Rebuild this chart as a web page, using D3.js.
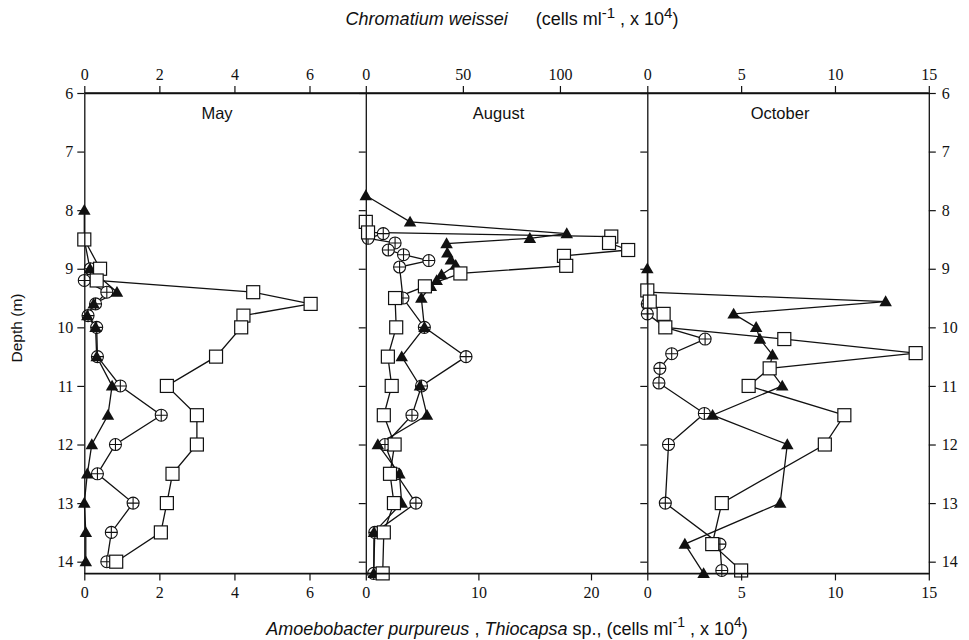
<!DOCTYPE html>
<html>
<head>
<meta charset="utf-8">
<script src="https://cdn.jsdelivr.net/npm/d3@7"></script>
<style>
  body { margin: 0; background: #fff; }
  text { fill: #111; }
</style>
</head>
<body>
<svg id="chart" width="969" height="640"></svg>
<script>
// values: depth (m), counts (cells ml-1, x 10^4)
let months = ["May", "August", "October"];
let topTicks = [[0, 2, 4, 6], [0, 50, 100], [0, 5, 10, 15]];
let bottomTicks = [[0, 2, 4, 6], [0, 10, 20], [0, 5, 10, 15]];
let topMax = [7.5, 145, 15];
let bottomMax = [7.5, 25, 15];
let depthTicks = [6, 7, 8, 9, 10, 11, 12, 13, 14];

// Chromatium weissei (filled triangles, top scale)
let mayTriDepth = [8.0, 8.5, 9.0, 9.4, 9.6, 9.8, 10.0, 10.5, 11.0, 11.5, 12.0, 12.5, 13.0, 13.5, 14.0];
let mayTri = [0, 0, 0.15, 0.87, 0.25, 0.08, 0.3, 0.33, 0.74, 0.63, 0.2, 0.08, 0, 0.04, 0.04];
let augTriDepth = [7.75, 8.2, 8.4, 8.48, 8.57, 8.73, 8.85, 8.94, 9.1, 9.2, 9.3, 9.5, 10.0, 10.5, 11.0, 11.5, 12.0, 12.5, 13.0, 13.5, 14.2];
let augTri = [0, 22.8, 103.5, 84.5, 41.6, 42, 43.8, 46.3, 39, 36.5, 33.5, 28.6, 30.2, 18.5, 27.9, 31.5, 6.2, 17.3, 18.5, 4.2, 4.1];
let octTriDepth = [9.0, 9.4, 9.56, 9.77, 10.0, 10.2, 10.47, 10.7, 11.0, 11.5, 12.0, 13.0, 13.7, 14.2];
let octTri = [0, 0, 12.7, 4.6, 5.8, 6.0, 6.67, 6.5, 7.19, 3.48, 7.46, 7.08, 2.0, 3.0];

// Amoebobacter purpureus (open squares, bottom scale)
let maySqDepth = [8.5, 9.0, 9.2, 9.4, 9.6, 9.8, 10.0, 10.5, 11.0, 11.5, 12.0, 12.5, 13.0, 13.5, 14.0];
let maySq = [0, 0.42, 0.33, 4.5, 6.03, 4.24, 4.18, 3.51, 2.2, 3.0, 3.0, 2.35, 2.2, 2.04, 0.85];
let augSqDepth = [8.2, 8.38, 8.45, 8.56, 8.68, 8.78, 8.95, 9.08, 9.3, 9.5, 10.0, 10.5, 11.0, 11.5, 12.0, 12.5, 13.0, 13.5, 14.2];
let augSq = [0, 0.2, 21.8, 21.6, 23.3, 17.6, 17.8, 8.4, 5.25, 2.6, 2.7, 1.96, 2.3, 1.6, 2.56, 2.15, 2.5, 1.6, 1.5];
let octSqDepth = [9.37, 9.56, 9.77, 10.0, 10.2, 10.44, 10.7, 11.0, 11.5, 12.0, 13.0, 13.7, 14.15];
let octSq = [0, 0.13, 0.87, 0.96, 7.3, 14.3, 6.52, 5.4, 10.5, 9.46, 3.97, 3.46, 5.0];

// Thiocapsa sp. (crossed circles, bottom scale)
let mayCirDepth = [9.0, 9.2, 9.4, 9.6, 9.8, 10.0, 10.5, 11.0, 11.5, 12.0, 12.5, 13.0, 13.5, 14.0];
let mayCir = [0.16, 0, 0.6, 0.3, 0.1, 0.33, 0.35, 0.96, 2.05, 0.83, 0.35, 1.3, 0.72, 0.6];
let augCirDepth = [8.4, 8.48, 8.56, 8.68, 8.76, 8.86, 8.97, 9.5, 10.0, 10.5, 11.0, 11.5, 12.0, 12.5, 13.0, 13.5, 14.2];
let augCir = [1.55, 0.2, 2.6, 2.0, 3.35, 5.6, 3.0, 3.3, 5.2, 8.9, 4.95, 4.1, 1.7, 2.7, 4.45, 0.8, 0.7];
let octCirDepth = [9.6, 9.77, 10.0, 10.2, 10.45, 10.7, 10.95, 11.47, 12.0, 13.0, 13.7, 14.15];
let octCir = [0, 0, 0.96, 3.08, 1.3, 0.67, 0.62, 3.04, 1.13, 0.96, 3.87, 3.97];

let triDepth = [mayTriDepth, augTriDepth, octTriDepth], triVal = [mayTri, augTri, octTri];
let sqDepth = [maySqDepth, augSqDepth, octSqDepth], sqVal = [maySq, augSq, octSq];
let cirDepth = [mayCirDepth, augCirDepth, octCirDepth], cirVal = [mayCir, augCir, octCir];

let svg = d3.select("#chart"),
    pLeft = 84.3,
    panelW = 281.5,
    pTop = 93,
    pBottom = 573.4;

let y = d3.scaleLinear().domain([6, 14.2]).range([pTop, pBottom]);

let serif = "'Liberation Serif', 'Times New Roman', serif",
    sans = "'Liberation Sans', Arial, sans-serif";

let zip = function(ds, vs) { return ds.map(function(d, i) { return {depth: d, v: vs[i]}; }); };

let lineLayer = svg.append("g"),
    markLayer = svg.append("g");

months.forEach(function(m, i) {
    let x0 = pLeft + i * panelW;
    let xTop = d3.scaleLinear().domain([0, topMax[i]]).range([x0, x0 + panelW]);
    let xBot = d3.scaleLinear().domain([0, bottomMax[i]]).range([x0, x0 + panelW]);

    // top axis
    let gt = svg.append("g")
        .attr("transform", "translate(0," + pTop + ")")
        .call(d3.axisTop(xTop).tickValues(topTicks[i]).tickSize(7).tickSizeOuter(0).tickPadding(6));
    // bottom axis
    let gb = svg.append("g")
        .attr("transform", "translate(0," + pBottom + ")")
        .call(d3.axisBottom(xBot).tickValues(bottomTicks[i]).tickSize(7).tickSizeOuter(0).tickPadding(6));
    // left side of each panel
    let gl = svg.append("g")
        .attr("transform", "translate(" + x0 + ",0)")
        .call(d3.axisLeft(y).tickValues(depthTicks).tickSize(7).tickSizeOuter(0).tickPadding(4)
            .tickFormat(i == 0 ? d3.format("d") : ""));

    [gt, gb, gl].forEach(function(g) {
        g.selectAll("path").attr("stroke", "#111").attr("stroke-width", 1.3);
        g.selectAll("line").attr("stroke", "#111").attr("stroke-width", 1.2);
        g.selectAll("text").attr("font-family", serif).attr("font-size", "16px").attr("fill", "#111");
    });

    // month label
    svg.append("text")
        .attr("x", x0 + panelW / 2 - 8)
        .attr("y", 119)
        .attr("text-anchor", "middle")
        .attr("font-family", sans)
        .attr("font-size", "16.5px")
        .text(m);

    let line = function(sc) {
        return d3.line().x(function(d) { return sc(d.v); }).y(function(d) { return y(d.depth); });
    };

    let tri = zip(triDepth[i], triVal[i]),
        sq = zip(sqDepth[i], sqVal[i]),
        cir = zip(cirDepth[i], cirVal[i]);

    [[cir, xBot], [tri, xTop], [sq, xBot]].forEach(function(s) {
        lineLayer.append("path")
            .datum(s[0])
            .attr("d", line(s[1]))
            .attr("fill", "none")
            .attr("stroke", "#111")
            .attr("stroke-width", 1.3);
    });

    // crossed circles
    let gc = markLayer.selectAll(".cir" + i)
        .data(cir)
        .enter().append("g")
        .attr("transform", function(d) { return "translate(" + xBot(d.v) + "," + y(d.depth) + ")"; });
    gc.append("circle").attr("r", 6).attr("fill", "#fff").attr("stroke", "#111").attr("stroke-width", 1.1);
    gc.append("path").attr("d", "M-6,0H6M0,-6V6").attr("stroke", "#111").attr("stroke-width", 1.1);

    // filled triangles
    markLayer.selectAll(".tri" + i)
        .data(tri)
        .enter().append("path")
        .attr("d", d3.symbol().type(d3.symbolTriangle).size(68))
        .attr("transform", function(d) { return "translate(" + xTop(d.v) + "," + (y(d.depth) + 1) + ")"; })
        .attr("fill", "#111");

    // open squares
    markLayer.selectAll(".sq" + i)
        .data(sq)
        .enter().append("rect")
        .attr("x", function(d) { return xBot(d.v) - 6.5; })
        .attr("y", function(d) { return y(d.depth) - 6.5; })
        .attr("width", 13)
        .attr("height", 13)
        .attr("fill", "#fff")
        .attr("stroke", "#111")
        .attr("stroke-width", 1.2);
});

// right depth axis
let gr = svg.append("g")
    .attr("transform", "translate(" + (pLeft + 3 * panelW) + ",0)")
    .call(d3.axisRight(y).tickValues(depthTicks).tickSize(7).tickSizeOuter(0).tickPadding(6));
gr.selectAll("path").attr("stroke", "#111").attr("stroke-width", 1.3);
gr.selectAll("line").attr("stroke", "#111").attr("stroke-width", 1.2);
gr.selectAll("text").attr("font-family", serif).attr("font-size", "16px").attr("fill", "#111");

// frame top and bottom lines across all panels
svg.append("line").attr("x1", pLeft).attr("x2", pLeft + 3 * panelW).attr("y1", pTop).attr("y2", pTop)
    .attr("stroke", "#111").attr("stroke-width", 1.3);
svg.append("line").attr("x1", pLeft).attr("x2", pLeft + 3 * panelW).attr("y1", pBottom).attr("y2", pBottom)
    .attr("stroke", "#111").attr("stroke-width", 1.3);

// axis titles
let t1 = svg.append("text")
    .attr("x", 512).attr("y", 25)
    .attr("text-anchor", "middle")
    .attr("font-family", sans).attr("font-size", "18px");
t1.append("tspan").attr("font-style", "italic").text("Chromatium weissei");
t1.append("tspan").attr("dx", 28).text("(cells  ml");
t1.append("tspan").attr("dy", -7).attr("font-size", "15px").text("-1");
t1.append("tspan").attr("dy", 7).text(" , x 10");
t1.append("tspan").attr("dy", -7).attr("font-size", "15px").text("4");
t1.append("tspan").attr("dy", 7).text(")");

let t2 = svg.append("text")
    .attr("x", 507).attr("y", 635)
    .attr("text-anchor", "middle")
    .attr("font-family", sans).attr("font-size", "18px");
t2.append("tspan").attr("font-style", "italic").text("Amoebobacter purpureus");
t2.append("tspan").text(" , ");
t2.append("tspan").attr("font-style", "italic").text("Thiocapsa");
t2.append("tspan").text("  sp., (cells  ml");
t2.append("tspan").attr("dy", -8).attr("font-size", "14px").text("-1");
t2.append("tspan").attr("dy", 8).text(" , x 10");
t2.append("tspan").attr("dy", -8).attr("font-size", "14px").text("4");
t2.append("tspan").attr("dy", 8).text(")");

svg.append("text")
    .attr("transform", "translate(22,328) rotate(-90)")
    .attr("text-anchor", "middle")
    .attr("font-family", sans).attr("font-size", "15.5px")
    .text("Depth (m)");
</script>
</body>
</html>
